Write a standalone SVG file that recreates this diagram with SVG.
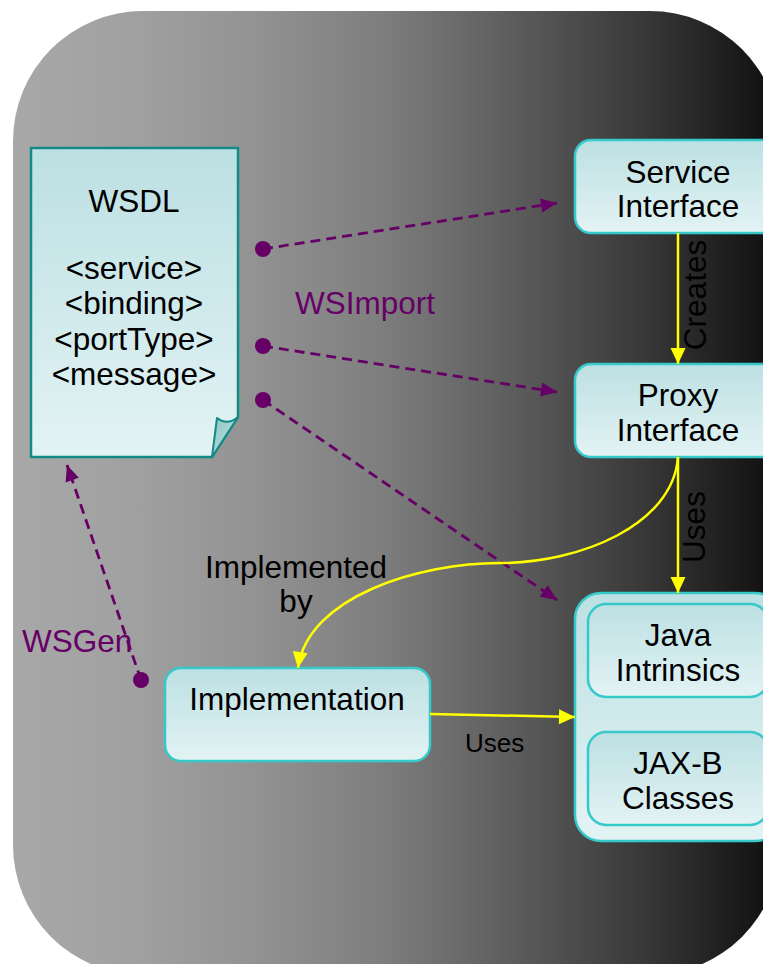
<svg xmlns="http://www.w3.org/2000/svg" width="763" height="964" viewBox="0 0 763 964">
  <defs>
    <linearGradient id="bg" gradientUnits="userSpaceOnUse" x1="13" y1="0" x2="780" y2="0">
      <stop offset="0" stop-color="#a8a8a8"/>
      <stop offset="0.15" stop-color="#a1a1a1"/>
      <stop offset="0.31" stop-color="#939393"/>
      <stop offset="0.48" stop-color="#7e7e7e"/>
      <stop offset="0.64" stop-color="#5f5f5f"/>
      <stop offset="0.81" stop-color="#3b3b3b"/>
      <stop offset="1" stop-color="#0e0e0e"/>
    </linearGradient>
    <linearGradient id="boxFill" x1="0" y1="0" x2="0" y2="1">
      <stop offset="0" stop-color="#bce0e3"/>
      <stop offset="1" stop-color="#e3f3f4"/>
    </linearGradient>
    <linearGradient id="foldFill" x1="0" y1="0" x2="1" y2="1">
      <stop offset="0" stop-color="#8fc6c6"/>
      <stop offset="1" stop-color="#c4e2e2"/>
    </linearGradient>
    <marker id="arrowPurple" markerUnits="userSpaceOnUse" markerWidth="18" markerHeight="16" refX="16" refY="7" orient="auto" viewBox="0 0 18 14" overflow="visible">
      <path d="M0,0 L16,7 L0,14 Z" fill="#660066" stroke="none"/>
    </marker>
    <marker id="arrowYellow" markerUnits="userSpaceOnUse" markerWidth="18" markerHeight="16" refX="16" refY="7.5" orient="auto" viewBox="0 0 18 15" overflow="visible">
      <path d="M0,0 L16,7.5 L0,15 Z" fill="#ffff00" stroke="none"/>
    </marker>
    <style>
      .box { fill: url(#boxFill); stroke: #36c9c9; stroke-width: 2.5; }
      .doc { fill: url(#boxFill); stroke: #128a86; stroke-width: 2.5; stroke-linejoin: round; }
      .label { font-family: "Liberation Sans", Arial, sans-serif; font-size: 31.5px; fill: #000; text-anchor: middle; }
      .tool { font-family: "Liberation Sans", Arial, sans-serif; font-size: 31.5px; fill: #660066; }
      .small { font-family: "Liberation Sans", Arial, sans-serif; font-size: 26px; fill: #000; }
      .dash { fill: none; stroke: #660066; stroke-width: 2.8; stroke-dasharray: 10 6; marker-end: url(#arrowPurple); }
      .dot { fill: #660066; }
      .flow { fill: none; stroke: #ffff00; stroke-width: 2.5; marker-end: url(#arrowYellow); }
    </style>
  </defs>

  <!-- backdrop panel -->
  <rect x="13" y="11" width="767" height="964" rx="130" ry="130" fill="url(#bg)"/>

  <!-- WSDL document with folded corner -->
  <g id="wsdl">
    <path class="doc" d="M31,148 H238 V417 L212,457 H31 Z"/>
    <path d="M212,457 L217,418 Q227,426 238,417 Z" fill="url(#foldFill)" stroke="#128a86" stroke-width="2" stroke-linejoin="round"/>
    <text class="label" x="134" y="212">WSDL</text>
    <text class="label" x="134" y="279">&lt;service&gt;</text>
    <text class="label" x="134" y="314">&lt;binding&gt;</text>
    <text class="label" x="134" y="350">&lt;portType&gt;</text>
    <text class="label" x="134" y="385">&lt;message&gt;</text>
  </g>

  <g id="service-interface">
    <rect class="box" x="575" y="140" width="206" height="93" rx="16"/>
    <text class="label" x="678" y="183">Service</text>
    <text class="label" x="678" y="217">Interface</text>
  </g>

  <g id="proxy-interface">
    <rect class="box" x="575" y="364" width="206" height="93" rx="16"/>
    <text class="label" x="678" y="406">Proxy</text>
    <text class="label" x="678" y="441">Interface</text>
  </g>

  <g id="runtime-classes">
    <rect class="box" x="575" y="593" width="206" height="248" rx="26"/>
    <g id="java-intrinsics">
      <rect class="box" x="588" y="604" width="180" height="93" rx="18"/>
      <text class="label" x="678" y="646">Java</text>
      <text class="label" x="678" y="681">Intrinsics</text>
    </g>
    <g id="jaxb-classes">
      <rect class="box" x="588" y="732" width="180" height="93" rx="18"/>
      <text class="label" x="678" y="774">JAX-B</text>
      <text class="label" x="678" y="809">Classes</text>
    </g>
  </g>

  <g id="implementation">
    <rect class="box" x="165" y="668" width="265" height="93" rx="16"/>
    <text class="label" x="297" y="710">Implementation</text>
  </g>

  <g id="connectors">
    <!-- WSImport outputs -->
    <line class="dash" x1="263" y1="249" x2="557" y2="203"/>
    <line class="dash" x1="263" y1="346" x2="557" y2="392"/>
    <line class="dash" x1="263" y1="400" x2="557" y2="600"/>
    <circle class="dot" cx="263" cy="249" r="8"/>
    <circle class="dot" cx="263" cy="346" r="8"/>
    <circle class="dot" cx="263" cy="400" r="8"/>
    <text class="tool" x="295" y="314">WSImport</text>

    <!-- WSGen back to the WSDL -->
    <line class="dash" x1="141" y1="680" x2="67" y2="465"/>
    <circle class="dot" cx="141" cy="680" r="8"/>
    <text class="tool" x="22" y="652">WSGen</text>

    <!-- Creates -->
    <line class="flow" x1="678" y1="233" x2="678" y2="364"/>
    <text class="label" transform="translate(706,295) rotate(-90)">Creates</text>

    <!-- Proxy uses runtime classes -->
    <line class="flow" x1="678" y1="457" x2="678" y2="593"/>
    <text class="label" transform="translate(705,527) rotate(-90)">Uses</text>

    <!-- Implemented by -->
    <path class="flow" d="M678,457 C673,525 580,563 500,563 C420,563 308,596 298,668"/>
    <text class="label" x="296" y="578">Implemented</text>
    <text class="label" x="296" y="612">by</text>

    <!-- Implementation uses runtime classes -->
    <line class="flow" x1="430" y1="714" x2="575" y2="717"/>
    <text class="small" x="465" y="752">Uses</text>
  </g>
</svg>
